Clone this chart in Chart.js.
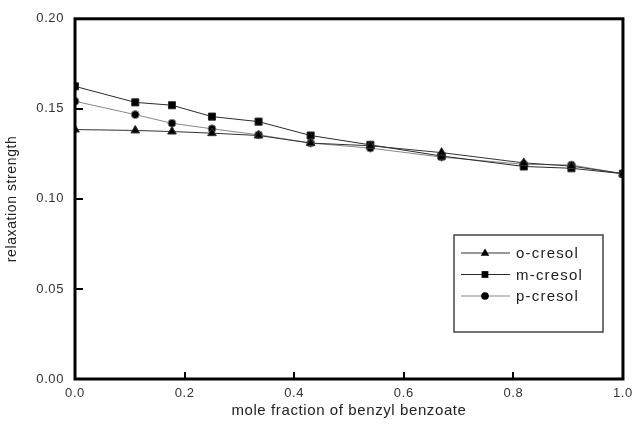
<!DOCTYPE html>
<html>
<head>
<meta charset="utf-8">
<script src="https://cdn.jsdelivr.net/npm/chart.js@4.4.1/dist/chart.umd.min.js"></script>
<style>
  html, body { margin: 0; padding: 0; background: #fff; }
  #wrap { width: 639px; height: 426px; }
</style>
</head>
<body>
<div id="wrap"><canvas id="relaxChart" width="639" height="426"></canvas></div>
<script>
// mole fraction of benzyl benzoate
const moleFraction = [0, 0.11, 0.177, 0.25, 0.335, 0.43, 0.539, 0.669, 0.819, 0.906, 1.0];

// relaxation strength per cresol isomer
const oCresol = [0.1385, 0.138, 0.1374, 0.1365, 0.1352, 0.131, 0.1295, 0.1257, 0.1200, 0.1182, 0.1140];
const mCresol = [0.1625, 0.1536, 0.1520, 0.1457, 0.1429, 0.1352, 0.1300, 0.1238, 0.1180, 0.1170, 0.1140];
const pCresol = [0.1542, 0.1468, 0.1420, 0.1389, 0.1356, 0.1310, 0.1282, 0.1232, 0.1192, 0.1188, 0.1140];

const seriesNames = ['o-cresol', 'm-cresol', 'p-cresol'];
const xTicks = [0, 0.2, 0.4, 0.6, 0.8, 1.0];
const yTicks = [0, 0.05, 0.10, 0.15, 0.20];

function toPoints(ys) {
    return moleFraction.map((x, i) => ({ x: x, y: ys[i] }));
}

// frame around the plot plus inward tick marks
const framePlugin = {
    id: 'frame',
    beforeDraw(chart) {
        chart.ctx.letterSpacing = '0.6px';
    },
    afterDraw(chart) {
        const ctx = chart.ctx;
        const a = chart.chartArea;
        const xs = chart.scales.x;
        const ys = chart.scales.y;
        ctx.save();
        ctx.strokeStyle = '#000';
        ctx.lineWidth = 2;
        xTicks.slice(1, -1).forEach(v => {
            const px = Math.round(xs.getPixelForValue(v));
            ctx.beginPath();
            ctx.moveTo(px, a.bottom);
            ctx.lineTo(px, a.bottom - 7);
            ctx.stroke();
        });
        yTicks.slice(1, -1).forEach(v => {
            const py = Math.round(ys.getPixelForValue(v));
            ctx.beginPath();
            ctx.moveTo(a.left, py);
            ctx.lineTo(a.left + 8, py);
            ctx.stroke();
        });
        ctx.lineWidth = 3;
        ctx.strokeRect(a.left, a.top, a.right - a.left, a.bottom - a.top);
        ctx.restore();
    }
};

function drawMarker(ctx, style, x, y, r) {
    ctx.beginPath();
    if (style === 'triangle') {
        ctx.moveTo(x, y - r);
        ctx.lineTo(x + r * 0.95, y + r * 0.6);
        ctx.lineTo(x - r * 0.95, y + r * 0.6);
        ctx.closePath();
    } else if (style === 'rect') {
        ctx.rect(x - r * 0.75, y - r * 0.75, r * 1.5, r * 1.5);
    } else {
        ctx.arc(x, y, r * 0.85, 0, Math.PI * 2);
    }
    ctx.fill();
}

// legend box inside the plot, lower right
const boxLegend = {
    id: 'boxLegend',
    afterDraw(chart) {
        const ctx = chart.ctx;
        const left = 454, top = 235, w = 149, h = 97;
        ctx.save();
        ctx.fillStyle = '#fff';
        ctx.fillRect(left, top, w, h);
        ctx.strokeStyle = '#444';
        ctx.lineWidth = 1.5;
        ctx.strokeRect(left, top, w, h);
        chart.data.datasets.forEach((ds, i) => {
            const y = top + 18 + i * 21.5;
            ctx.strokeStyle = ds.borderColor;
            ctx.lineWidth = 1.2;
            ctx.beginPath();
            ctx.moveTo(left + 7, y);
            ctx.lineTo(left + 56, y);
            ctx.stroke();
            ctx.fillStyle = '#000';
            drawMarker(ctx, ds.pointStyle, left + 31, y, 4.5);
            ctx.fillStyle = '#222';
            ctx.font = '15px "Liberation Sans", Arial, sans-serif';
            ctx.letterSpacing = '1.2px';
            ctx.textBaseline = 'middle';
            ctx.textAlign = 'left';
            ctx.fillText(ds.label, left + 62, y + 1);
        });
        ctx.restore();
    }
};

const ctx = document.getElementById('relaxChart').getContext('2d');

let relaxChart = new Chart(ctx, {
    type: 'scatter',
    data: {
        datasets: [{
            label: seriesNames[0],
            data: toPoints(oCresol),
            borderColor: '#333',
            backgroundColor: '#000',
            borderWidth: 1,
            pointStyle: 'triangle',
            pointRadius: 5,
            showLine: true
        }, {
            label: seriesNames[1],
            data: toPoints(mCresol),
            borderColor: '#2a2a2a',
            backgroundColor: '#000',
            borderWidth: 1,
            pointStyle: 'rect',
            pointRadius: 5,
            showLine: true
        }, {
            label: seriesNames[2],
            data: toPoints(pCresol),
            borderColor: '#888',
            backgroundColor: '#000',
            borderWidth: 1,
            pointStyle: 'circle',
            pointRadius: 4,
            showLine: true
        }]
    },
    options: {
        responsive: false,
        animation: false,
        layout: {
            padding: { left: 0, top: 18, right: 11, bottom: 0 }
        },
        plugins: {
            legend: { display: false },
            tooltip: { enabled: false }
        },
        scales: {
            x: {
                type: 'linear',
                min: 0,
                max: 1,
                afterBuildTicks: scale => { scale.ticks = xTicks.map(v => ({ value: v })); },
                afterFit: scale => { scale.height = 47; },
                grid: { drawOnChartArea: false, drawTicks: false },
                border: { display: false },
                ticks: {
                    padding: 7,
                    color: '#333',
                    font: { family: '"Liberation Sans", Arial, sans-serif', size: 13 },
                    callback: v => v.toFixed(1)
                },
                title: {
                    display: true,
                    text: 'mole fraction of benzyl benzoate',
                    color: '#222',
                    font: { family: '"Liberation Sans", Arial, sans-serif', size: 15 },
                    padding: { bottom: 6 }
                }
            },
            y: {
                type: 'linear',
                min: 0,
                max: 0.2,
                afterBuildTicks: scale => { scale.ticks = yTicks.map(v => ({ value: v })); },
                afterFit: scale => { scale.width = 75; },
                grid: { drawOnChartArea: false, drawTicks: false },
                border: { display: false },
                ticks: {
                    padding: 11,
                    color: '#333',
                    font: { family: '"Liberation Sans", Arial, sans-serif', size: 13 },
                    callback: v => v.toFixed(2)
                },
                title: {
                    display: true,
                    text: 'relaxation strength',
                    color: '#222',
                    font: { family: '"Liberation Sans", Arial, sans-serif', size: 14 },
                    padding: { top: 4 }
                }
            }
        }
    },
    plugins: [framePlugin, boxLegend]
});
</script>
</body>
</html>
